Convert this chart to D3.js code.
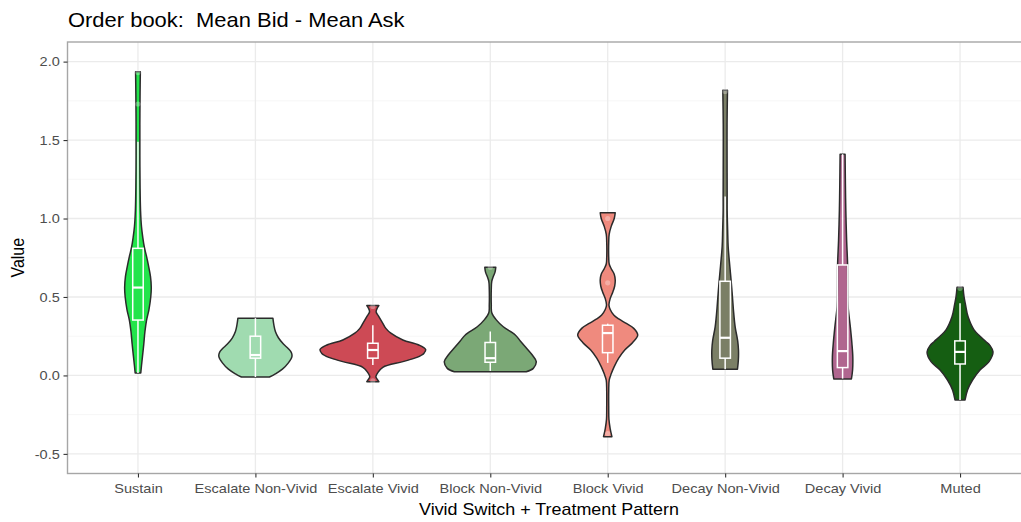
<!DOCTYPE html>
<html>
<head>
<meta charset="utf-8">
<script src="https://cdn.jsdelivr.net/npm/d3@7"></script>
<style>
  body { margin: 0; background: #fff; }
  svg { display: block; }
  text { font-family: "Liberation Sans", Arial, sans-serif; }
</style>
</head>
<body>
<svg id="chart" width="1021" height="522"></svg>
<script>
// Groups on the x axis
const categories = ["Sustain", "Escalate Non-Vivid", "Escalate Vivid", "Block Non-Vivid",
                    "Block Vivid", "Decay Non-Vivid", "Decay Vivid", "Muted"];
const fills = ["#22e44b", "#a0dbb0", "#cd4a55", "#7ba876", "#ef8a7e", "#7b7f66", "#b0668f", "#155e12"];

// Violin outlines: [value, relative density] (1 = widest violin)
const densSustain = [[0.016,0.053],[0.06,0.066],[0.12,0.085],[0.2,0.11],[0.28,0.132],[0.35,0.161],
  [0.42,0.208],[0.5,0.242],[0.56,0.252],[0.63,0.237],[0.7,0.199],[0.76,0.161],[0.82,0.119],
  [0.88,0.091],[0.95,0.066],[1.05,0.049],[1.2,0.04],[1.4,0.036],[1.6,0.036],[1.8,0.04],[1.935,0.045]];
const densEscNV = [[-0.01,0.265],[0.01,0.378],[0.04,0.511],[0.08,0.624],[0.12,0.691],[0.145,0.681],
  [0.17,0.624],[0.2,0.53],[0.24,0.435],[0.28,0.378],[0.32,0.35],[0.365,0.331]];
const densEscV = [[-0.04,0.114],[-0.025,0.085],[-0.008,0.057],[0.018,0.095],[0.052,0.189],[0.088,0.568],
  [0.115,0.833],[0.14,0.965],[0.165,1.0],[0.194,0.87],[0.226,0.568],[0.269,0.341],[0.3,0.246],
  [0.332,0.189],[0.375,0.114],[0.405,0.062],[0.43,0.085],[0.445,0.114]];
const densBlockNV = [[0.024,0.681],[0.045,0.814],[0.088,0.87],[0.13,0.795],[0.183,0.662],[0.22,0.568],
  [0.258,0.473],[0.31,0.246],[0.354,0.114],[0.4,0.028],[0.45,0.019],[0.55,0.019],[0.6,0.028],
  [0.63,0.057],[0.66,0.091],[0.69,0.104]];
const densBlockV = [[-0.39,0.079],[-0.34,0.047],[-0.28,0.023],[-0.2,0.019],[-0.1,0.019],[-0.03,0.028],
  [0.01,0.066],[0.056,0.123],[0.11,0.208],[0.162,0.322],[0.21,0.473],[0.258,0.568],[0.3,0.492],
  [0.33,0.36],[0.36,0.208],[0.385,0.114],[0.42,0.047],[0.449,0.023],[0.49,0.047],[0.53,0.095],
  [0.57,0.132],[0.608,0.142],[0.645,0.123],[0.68,0.066],[0.71,0.028],[0.75,0.019],[0.85,0.019],
  [0.9,0.028],[0.95,0.066],[1.0,0.123],[1.037,0.142]];
const densDecayNV = [[0.04,0.233],[0.1,0.25],[0.162,0.252],[0.22,0.237],[0.31,0.189],[0.4,0.161],
  [0.5,0.138],[0.6,0.114],[0.693,0.089],[0.82,0.057],[0.927,0.047],[1.05,0.038],[1.14,0.038],
  [1.4,0.036],[1.6,0.036],[1.818,0.044]];
const densDecayV = [[-0.022,0.167],[0.035,0.189],[0.12,0.193],[0.205,0.176],[0.31,0.146],[0.44,0.104],
  [0.55,0.098],[0.704,0.095],[0.863,0.076],[1.05,0.061],[1.22,0.053],[1.41,0.047]];
const densMuted = [[-0.156,0.095],[-0.092,0.142],[-0.029,0.237],[0.035,0.378],[0.088,0.549],[0.15,0.624],
  [0.19,0.568],[0.215,0.492],[0.25,0.378],[0.29,0.265],[0.375,0.151],[0.45,0.104],[0.5,0.076],[0.562,0.057]];
const densities = [densSustain, densEscNV, densEscV, densBlockNV, densBlockV, densDecayNV, densDecayV, densMuted];

// Box-plot summaries
const whiskerLow  = [0.016, -0.01, 0.067, 0.029, 0.08, 0.04, -0.02, -0.156];
const q1          = [0.353, 0.11, 0.11, 0.084, 0.145, 0.11, 0.05, 0.073];
const medians     = [0.56, 0.13, 0.162, 0.11, 0.27, 0.24, 0.155, 0.15];
const q3          = [0.81, 0.25, 0.205, 0.21, 0.32, 0.6, 0.704, 0.22];
const whiskerHigh = [1.49, 0.365, 0.32, 0.28, 0.33, 1.14, 1.41, 0.46];
const outliers = [[1.73, 1.93], [], [0.44, -0.035], [0.69], [1.0, 0.59, -0.37], [1.81], [], [0.555]];

// Axis ticks
const yTicks = [-0.5, 0, 0.5, 1, 1.5, 2];
const yMinor = [-0.25, 0.25, 0.75, 1.25, 1.75];

const titleText = "Order book:  Mean Bid - Mean Ask";
const xTitle = "Vivid Switch + Treatment Pattern";
const yTitle = "Value";

// ---- layout ----
const panel = { left: 67.5, right: 1030.5, top: 42, bottom: 473.5 };
const stretch = 1.12;   // horizontal text aspect of the output

const svg = d3.select("#chart");

const x = d3.scalePoint().domain(categories).range([panel.left, panel.right]).padding(0.6);
const y = d3.scaleLinear().domain([-0.625, 2.125]).range([panel.bottom, panel.top]);
const w = d3.scaleLinear().domain([0, 1]).range([0, x.step() * 0.45]);

// grid
const grid = svg.append("g");
grid.selectAll("line.minor").data(yMinor).join("line")
  .attr("x1", panel.left).attr("x2", panel.right)
  .attr("y1", d => y(d)).attr("y2", d => y(d))
  .attr("stroke", "#f2f2f2").attr("stroke-width", 0.7);
grid.selectAll("line.majorY").data(yTicks).join("line")
  .attr("x1", panel.left).attr("x2", panel.right)
  .attr("y1", d => y(d)).attr("y2", d => y(d))
  .attr("stroke", "#ebebeb").attr("stroke-width", 1.3);
grid.selectAll("line.majorX").data(categories).join("line")
  .attr("x1", d => x(d)).attr("x2", d => x(d))
  .attr("y1", panel.top).attr("y2", panel.bottom)
  .attr("stroke", "#ebebeb").attr("stroke-width", 1.3);

// violins
const groups = categories.map((c, i) => ({
  cat: c, fill: fills[i], dens: densities[i],
  lo: whiskerLow[i], q1: q1[i], med: medians[i], q3: q3[i], hi: whiskerHigh[i], out: outliers[i]
}));

const violin = svg.append("g");
groups.forEach(g => {
  const cx = x(g.cat);
  const area = d3.area()
    .curve(d3.curveCatmullRom.alpha(0.5))
    .y(d => y(d[0]))
    .x0(d => cx - w(d[1]))
    .x1(d => cx + w(d[1]));
  violin.append("path")
    .attr("d", area(g.dens))
    .attr("fill", g.fill)
    .attr("stroke", "#2b2b2b")
    .attr("stroke-width", 1.5)
    .attr("stroke-linejoin", "round");
});

// box plots
const boxW = 10.5;
const boxes = svg.append("g").attr("stroke", "#ffffff").attr("stroke-width", 1.5).attr("fill", "none");
groups.forEach(g => {
  const cx = x(g.cat);
  boxes.append("line").attr("x1", cx).attr("x2", cx).attr("y1", y(g.q3)).attr("y2", y(g.hi));
  boxes.append("line").attr("x1", cx).attr("x2", cx).attr("y1", y(g.q1)).attr("y2", y(g.lo));
  boxes.append("rect").attr("x", cx - boxW / 2).attr("width", boxW)
    .attr("y", y(g.q3)).attr("height", y(g.q1) - y(g.q3));
  boxes.append("line").attr("x1", cx - boxW / 2).attr("x2", cx + boxW / 2)
    .attr("y1", y(g.med)).attr("y2", y(g.med)).attr("stroke-width", 2.2);
  g.out.forEach(v => {
    svg.append("circle").attr("cx", cx).attr("cy", y(v)).attr("r", 2.6)
      .attr("fill", "#ffffff").attr("fill-opacity", 0.3);
  });
});

// panel border
svg.append("rect")
  .attr("x", panel.left).attr("y", panel.top)
  .attr("width", panel.right - panel.left).attr("height", panel.bottom - panel.top)
  .attr("fill", "none").attr("stroke", "#a6a6a6").attr("stroke-width", 1.4);

// axes
const yAxis = svg.append("g").attr("transform", `translate(${panel.left},0)`)
  .call(d3.axisLeft(y).tickValues(yTicks).tickSize(4).tickPadding(2).tickFormat(d => d.toFixed(1)));
const xAxis = svg.append("g").attr("transform", `translate(0,${panel.bottom})`)
  .call(d3.axisBottom(x).tickSize(4).tickPadding(6.3));
[yAxis, xAxis].forEach(a => {
  a.select(".domain").remove();
  a.selectAll(".tick line").attr("stroke", "#333333").attr("stroke-width", 1.1);
  a.selectAll(".tick text").attr("fill", "#4d4d4d").style("font-size", "13px")
    .style("font-family", '"Liberation Sans", Arial, sans-serif');
});
yAxis.selectAll(".tick text").attr("transform", `translate(-1,0) scale(${stretch},1)`);
xAxis.selectAll(".tick text").attr("transform", `scale(${stretch},1)`);

// titles
svg.append("text")
  .attr("transform", `translate(68,27) scale(${stretch},1)`)
  .style("font-size", "19.6px").style("white-space", "pre").attr("fill", "#000")
  .text(titleText);
svg.append("text")
  .attr("transform", `translate(${(panel.left + panel.right) / 2},515) scale(${stretch},1)`)
  .attr("text-anchor", "middle").style("font-size", "16px").attr("fill", "#000")
  .text(xTitle);
svg.append("text")
  .attr("transform", `translate(24,${(panel.top + panel.bottom) / 2}) scale(${stretch},1) rotate(-90)`)
  .attr("text-anchor", "middle").style("font-size", "16px").attr("fill", "#000")
  .text(yTitle);
</script>
</body>
</html>
